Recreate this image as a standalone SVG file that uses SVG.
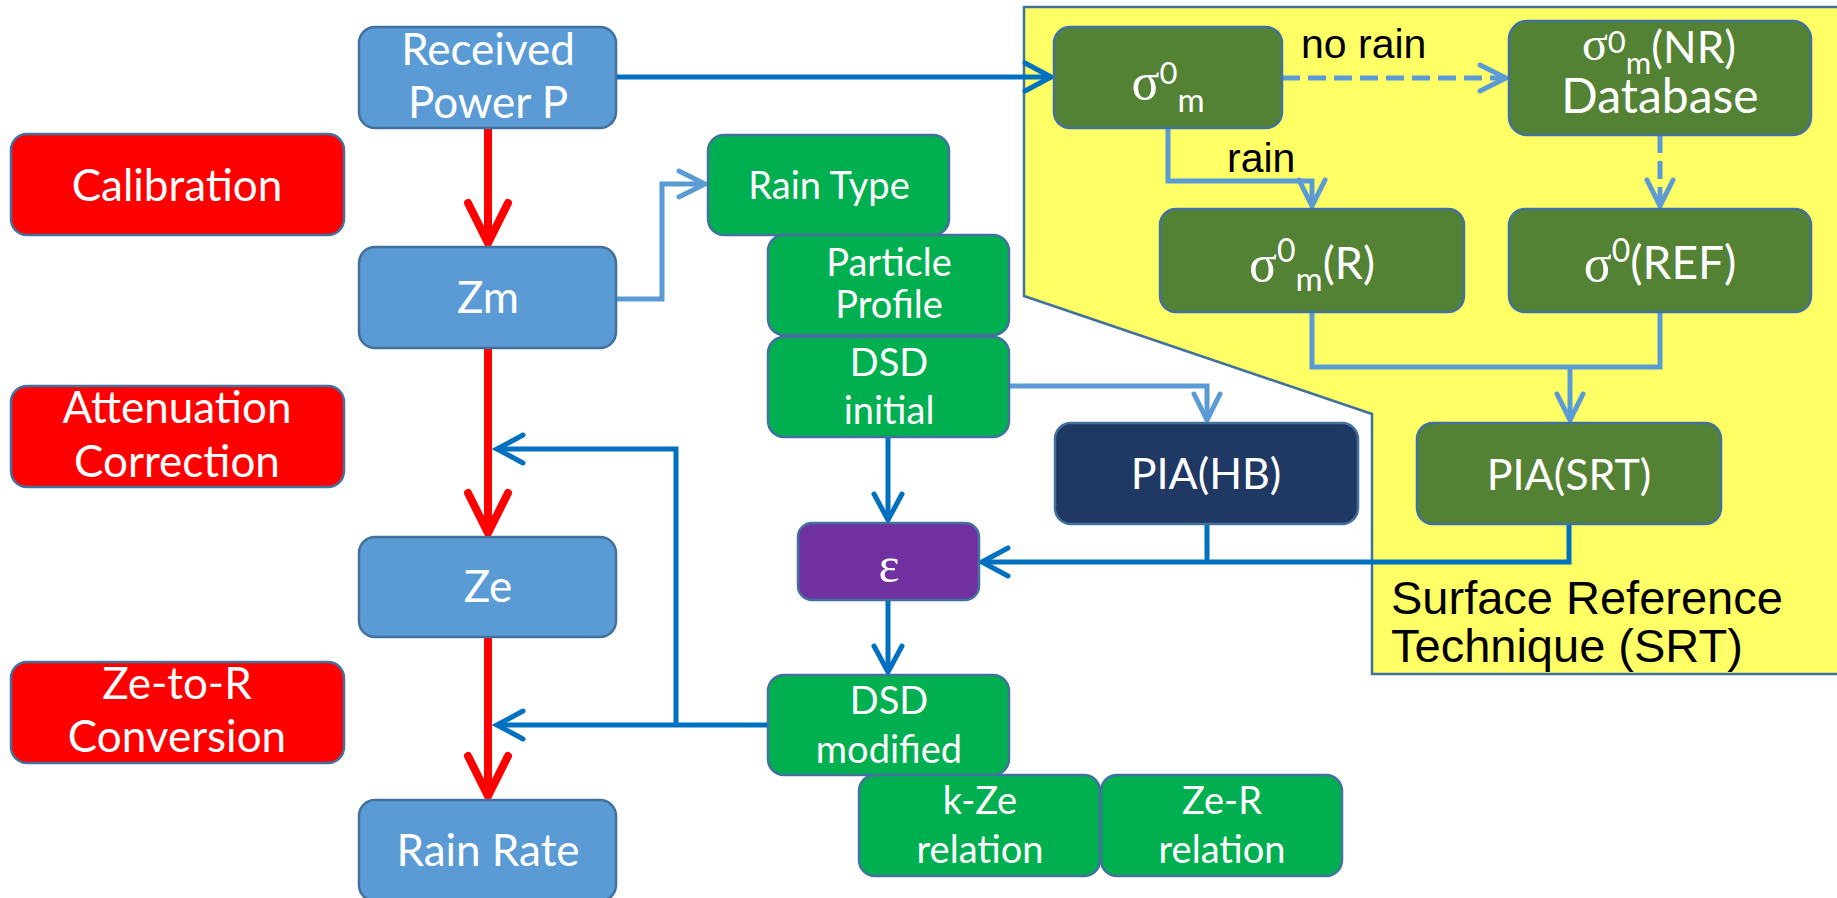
<svg xmlns="http://www.w3.org/2000/svg" width="1837" height="898" viewBox="0 0 1837 898">
<defs>
<style>
.n{stroke:#41719C;stroke-width:2.5}
.blue{fill:#5B9BD5}
.red{fill:#FF0000}
.grn{fill:#00B050}
.dg{fill:#548235}
.navy{fill:#203864}
.pur{fill:#7030A0}
.t{font-family:Lato,"Open Sans",sans-serif;fill:#fff;text-anchor:middle}
.t44{font-size:44px}
.t38{font-size:38px}
.t43{font-size:43px}
.sym{font-family:"Liberation Serif",serif}
.lbl{font-family:"Liberation Sans",Arial,sans-serif;fill:#000}
.cr{fill:none;stroke:#FF0000;stroke-width:8}
.cb{fill:none;stroke:#0070C0;stroke-width:5}
.cl{fill:none;stroke:#5B9BD5;stroke-width:5}
.dash{stroke-dasharray:18 8}
</style>
<marker id="ar" markerUnits="userSpaceOnUse" viewBox="-50 -30 60 60" markerWidth="60" markerHeight="60" refX="0" refY="0" orient="auto">
<path d="M-40,-20 L0,0 L-40,20" fill="none" stroke="#FF0000" stroke-width="8" stroke-linecap="round"/>
</marker>
<marker id="ab" markerUnits="userSpaceOnUse" viewBox="-35 -20 40 40" markerWidth="40" markerHeight="40" refX="0" refY="0" orient="auto">
<path d="M-26,-14 L0,0 L-26,14" fill="none" stroke="#0070C0" stroke-width="5" stroke-linecap="round"/>
</marker>
<marker id="al" markerUnits="userSpaceOnUse" viewBox="-35 -20 40 40" markerWidth="40" markerHeight="40" refX="0" refY="0" orient="auto">
<path d="M-26,-13 L0,0 L-26,13" fill="none" stroke="#5B9BD5" stroke-width="5" stroke-linecap="round"/>
</marker>
</defs>
<rect width="1837" height="898" fill="#fff"/>

<g id="srt-region">
<polygon points="1024,7 1840,7 1840,674 1372,674 1372,414 1024,296" fill="#FFFF66" stroke="#41719C" stroke-width="2.5"/>
<text class="lbl" x="1391" y="614" font-size="47">Surface Reference</text>
<text class="lbl" x="1391" y="662" font-size="47">Technique (SRT)</text>
</g>

<g id="connectors">
<path class="cr" d="M488,128 V243" marker-end="url(#ar)"/>
<path class="cr" d="M488,348 V533" marker-end="url(#ar)"/>
<path class="cr" d="M488,637 V796" marker-end="url(#ar)"/>
<path class="cb" d="M616,77 H1051" marker-end="url(#ab)"/>
<path class="cl" d="M616,299 H662 V184 H705" marker-end="url(#al)"/>
<path class="cl" d="M1009,386 H1207 V420" marker-end="url(#al)" stroke-width="4.5"/>
<path class="cb" d="M888,437 V520" marker-end="url(#ab)"/>
<path class="cb" d="M888,600 V672" marker-end="url(#ab)"/>
<path class="cb" d="M1569,524 V562 H982" marker-end="url(#ab)"/>
<path class="cb" d="M1207,524 V562"/>
<path class="cb" d="M768,725 H497" marker-end="url(#ab)"/>
<path class="cb" d="M676,725 V449 H497" marker-end="url(#ab)"/>
<path class="cl dash" d="M1282,78 H1506" marker-end="url(#al)"/>
<path class="cl dash" d="M1660,135 V206" marker-end="url(#al)"/>
<path class="cl" d="M1168,128 V181 H1312 V206" marker-end="url(#al)"/>
<path class="cl" d="M1312,312 V367 H1660 V312"/>
<path class="cl" d="M1570,367 V420" marker-end="url(#al)"/>
<text class="lbl" x="1301" y="58" font-size="41">no rain</text>
<text class="lbl" x="1227" y="172" font-size="41">rain</text>
</g>

<g id="received-power">
<rect class="n blue" x="359" y="27" width="257" height="101" rx="16"/>
<text class="t t44" x="488" y="65">Received</text>
<text class="t t44" x="488" y="118">Power P</text>
</g>
<g id="calibration">
<rect class="n red" x="11" y="134" width="333" height="101" rx="16"/>
<text class="t t44" x="177" y="201">Calibration</text>
</g>
<g id="zm">
<rect class="n blue" x="359" y="247" width="257" height="101" rx="16"/>
<text class="t t44" x="488" y="313">Zm</text>
</g>
<g id="attenuation-correction">
<rect class="n red" x="11" y="386" width="333" height="101" rx="16"/>
<text class="t t44" x="177" y="423">Attenuation</text>
<text class="t t44" x="177" y="477">Correction</text>
</g>
<g id="ze">
<rect class="n blue" x="359" y="537" width="257" height="100" rx="16"/>
<text class="t t44" x="488" y="602">Ze</text>
</g>
<g id="ze-to-r">
<rect class="n red" x="11" y="662" width="333" height="101" rx="16"/>
<text class="t t44" x="177" y="699">Ze-to-R</text>
<text class="t t44" x="177" y="752">Conversion</text>
</g>
<g id="rain-rate">
<rect class="n blue" x="359" y="800" width="257" height="101" rx="16"/>
<text class="t t44" x="488" y="866">Rain Rate</text>
</g>

<g id="rain-type">
<rect class="n grn" x="708" y="135" width="241" height="100" rx="16"/>
<text class="t t38" x="829" y="199">Rain Type</text>
</g>
<g id="particle-profile">
<rect class="n grn" x="768" y="235" width="241" height="100" rx="16"/>
<text class="t t38" x="889" y="276">Particle</text>
<text class="t t38" x="889" y="318">Profile</text>
</g>
<g id="dsd-initial">
<rect class="n grn" x="768" y="337" width="241" height="100" rx="16"/>
<text class="t t38" x="889" y="376">DSD</text>
<text class="t t38" x="889" y="424">initial</text>
</g>
<g id="epsilon">
<rect class="n pur" x="798" y="523" width="181" height="77" rx="14"/>
<text class="t sym" x="889" y="582" font-size="50">ε</text>
</g>
<g id="dsd-modified">
<rect class="n grn" x="768" y="675" width="241" height="100" rx="16"/>
<text class="t t38" x="889" y="714">DSD</text>
<text class="t t38" x="889" y="763">modified</text>
</g>
<g id="k-ze-relation">
<rect class="n grn" x="859" y="775" width="241" height="101" rx="16"/>
<text class="t t38" x="980" y="814">k-Ze</text>
<text class="t t38" x="980" y="863">relation</text>
</g>
<g id="ze-r-relation">
<rect class="n grn" x="1101" y="775" width="241" height="101" rx="16"/>
<text class="t t38" x="1222" y="814">Ze-R</text>
<text class="t t38" x="1222" y="863">relation</text>
</g>
<g id="pia-hb">
<rect class="n navy" x="1055" y="423" width="303" height="101" rx="16"/>
<text class="t t43" x="1206" y="489">PIA(HB)</text>
</g>

<g id="sigma-m">
<rect class="n dg" x="1054" y="27" width="228" height="101" rx="16"/>
<text class="t" x="1168" y="99"><tspan class="sym" font-size="52">σ</tspan><tspan font-size="31" dy="-15">0</tspan><tspan font-size="33" dy="28">m</tspan></text>
</g>
<g id="sigma-nr-database">
<rect class="n dg" x="1509" y="21" width="302" height="114" rx="18"/>
<text class="t" x="1659" y="60"><tspan class="sym" font-size="48">σ</tspan><tspan font-size="31" dy="-7">0</tspan><tspan font-size="31" dy="21">m</tspan><tspan font-size="44" dy="-11">(NR)</tspan></text>
<text class="t" x="1660" y="113" font-size="48">Database</text>
</g>
<g id="sigma-m-r">
<rect class="n dg" x="1160" y="209" width="304" height="103" rx="16"/>
<text class="t" x="1312" y="281"><tspan class="sym" font-size="52">σ</tspan><tspan font-size="32" dy="-19">0</tspan><tspan font-size="33" dy="29">m</tspan><tspan font-size="45" dy="-12">(R)</tspan></text>
</g>
<g id="sigma-ref">
<rect class="n dg" x="1509" y="209" width="302" height="103" rx="16"/>
<text class="t" x="1660" y="281"><tspan class="sym" font-size="52">σ</tspan><tspan font-size="32" dy="-19">0</tspan><tspan font-size="46" dy="17">(REF)</tspan></text>
</g>
<g id="pia-srt">
<rect class="n dg" x="1417" y="423" width="304" height="101" rx="16"/>
<text class="t t43" x="1569" y="490">PIA(SRT)</text>
</g>
</svg>
